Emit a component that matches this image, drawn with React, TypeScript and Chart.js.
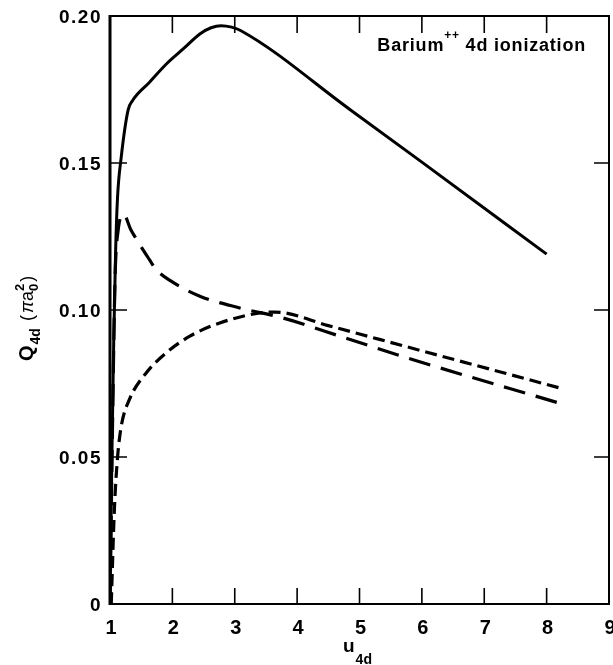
import React, { useEffect, useRef } from "react";
import { Chart, registerables } from "chart.js";

Chart.register(...registerables);

// ---- data ----
const solidX = [1.0, 1.03, 1.06, 1.09, 1.12, 1.18, 1.29, 1.36, 1.63, 1.9, 2.2, 2.44, 2.62, 2.78, 2.95, 3.1, 4.84, 6.0, 8.0];
const solidY = [0, 0.05, 0.09, 0.12, 0.138, 0.152, 0.168, 0.1712, 0.1774, 0.1836, 0.1893, 0.1939, 0.1960, 0.1967, 0.1962, 0.195, 0.1683, 0.1503, 0.119];

const longX = [1.0, 1.04, 1.08, 1.13, 1.22, 1.33, 1.47, 1.63, 1.73, 1.98, 2.44, 3.08, 3.77, 4.8, 5.86, 8.19];
const longY = [0, 0.06, 0.11, 0.127, 0.1325, 0.1275, 0.1225, 0.1172, 0.1140, 0.1098, 0.1047, 0.1007, 0.0973, 0.0903, 0.0831, 0.0684];

const shortX = [1.02, 1.07, 1.12, 1.18, 1.31, 1.58, 1.9, 2.28, 2.76, 3.4, 3.65, 4.5, 5.32, 8.26];
const shortY = [0, 0.032, 0.0496, 0.0604, 0.0695, 0.0786, 0.0854, 0.0911, 0.0956, 0.0990, 0.0993, 0.0947, 0.0900, 0.0732];

const xTicks = [1, 2, 3, 4, 5, 6, 7, 8, 9];
const xTickLabels = ["1", "2", "3", "4", "5", "6", "7", "8", "9"];
const yTicks = [0, 0.05, 0.1, 0.15, 0.2];
const yTickLabels = ["0", "0.05", "0.10", "0.15", "0.20"];

const toPts = (xs: number[], ys: number[]) => xs.map((x, i) => ({ x, y: ys[i] }));

const FONT = "'Liberation Sans', Arial, Helvetica, sans-serif";

const framePlugin = {
  id: "framePlugin",
  afterDatasetsDraw(chart: any) {
    const { ctx, chartArea: a, scales } = chart;
    const xs = scales.x;
    const ys = scales.y;
    ctx.save();
    ctx.strokeStyle = "#000";
    ctx.fillStyle = "#000";
    // frame
    ctx.lineWidth = 2;
    ctx.beginPath();
    ctx.moveTo(a.left, a.top);
    ctx.lineTo(a.right, a.top);
    ctx.lineTo(a.right, a.bottom);
    ctx.lineTo(a.left, a.bottom);
    ctx.stroke();
    ctx.lineWidth = 3;
    ctx.beginPath();
    ctx.moveTo(a.left, a.top - 1);
    ctx.lineTo(a.left, a.bottom + 1);
    ctx.stroke();

    // inward ticks
    ctx.lineWidth = 1.6;
    ctx.beginPath();
    xTicks.forEach((v) => {
      if (v === xs.min || v === xs.max) return;
      const p = xs.getPixelForValue(v);
      ctx.moveTo(p, a.bottom);
      ctx.lineTo(p, a.bottom - 16);
      ctx.moveTo(p, a.top);
      ctx.lineTo(p, a.top + 17);
    });
    yTicks.forEach((v) => {
      if (v === ys.min || v === ys.max) return;
      const p = ys.getPixelForValue(v);
      ctx.moveTo(a.left, p);
      ctx.lineTo(a.left + 17, p);
      ctx.moveTo(a.right, p);
      ctx.lineTo(a.right - 15, p);
    });
    ctx.stroke();

    // tick labels
    ctx.font = `bold 19px ${FONT}`;
    (ctx as any).letterSpacing = "1.5px";
    ctx.textAlign = "right";
    ctx.textBaseline = "middle";
    yTicks.forEach((v, i) => {
      const p = ys.getPixelForValue(v);
      ctx.fillText(yTickLabels[i], a.left - 8, p + 2);
    });
    ctx.font = `bold 20px ${FONT}`;
    (ctx as any).letterSpacing = "0px";
    ctx.textAlign = "center";
    xTicks.forEach((v, i) => {
      const p = xs.getPixelForValue(v);
      ctx.fillText(xTickLabels[i], p + 1, a.bottom + 24);
    });

    // x title: u_4d
    ctx.textAlign = "left";
    ctx.textBaseline = "alphabetic";
    ctx.font = `bold 19px ${FONT}`;
    const ux = 343;
    ctx.fillText("u", ux, 652);
    const uw = ctx.measureText("u").width;
    ctx.font = `bold 14px ${FONT}`;
    ctx.fillText("4d", ux + uw + 1, 664);

    // y title: Q_4d (πa_0^2), rotated
    ctx.save();
    ctx.translate(33, 361);
    ctx.rotate(-Math.PI / 2);
    let cx = 0;
    ctx.font = `bold 20px ${FONT}`;
    ctx.fillText("Q", cx, 0);
    cx += ctx.measureText("Q").width + 1;
    ctx.font = `bold 14px ${FONT}`;
    ctx.fillText("4d", cx, 7);
    cx += ctx.measureText("4d").width + 7;
    ctx.font = `18px ${FONT}`;
    ctx.fillText("(", cx, 0);
    cx += ctx.measureText("(").width + 2;
    ctx.font = `italic 18px ${FONT}`;
    ctx.fillText("\u03c0", cx, 0);
    cx += ctx.measureText("\u03c0").width;
    ctx.font = `18px ${FONT}`;
    ctx.fillText("a", cx, 0);
    cx += ctx.measureText("a").width;
    ctx.font = `bold 13px ${FONT}`;
    ctx.fillText("2", cx, -9);
    ctx.fillText("0", cx, 5);
    cx += ctx.measureText("2").width + 2;
    ctx.font = `18px ${FONT}`;
    ctx.fillText(")", cx, 0);
    ctx.restore();

    // annotation
    ctx.font = `bold 18px ${FONT}`;
    (ctx as any).letterSpacing = "0.8px";
    const p1 = "Barium";
    const p3 = " 4d ionization";
    const w1 = ctx.measureText(p1).width;
    const w3 = ctx.measureText(p3).width;
    ctx.font = `bold 12px ${FONT}`;
    const w2 = ctx.measureText("++").width;
    const endX = 586;
    let sx = endX - (w1 + w2 + w3);
    ctx.font = `bold 18px ${FONT}`;
    ctx.fillText(p1, sx, 51);
    sx += w1;
    ctx.font = `bold 12px ${FONT}`;
    ctx.fillText("++", sx, 39);
    sx += w2;
    ctx.font = `bold 18px ${FONT}`;
    ctx.fillText(p3, sx, 51);
    ctx.restore();
  },
};

export default function App() {
  const ref = useRef<HTMLCanvasElement | null>(null);
  useEffect(() => {
    if (!ref.current) return;
    const common = {
      pointRadius: 0,
      borderColor: "#000",
      borderWidth: 3,
      fill: false,
      cubicInterpolationMode: "monotone" as const,
      borderCapStyle: "butt" as const,
    };
    const chart = new Chart(ref.current, {
      type: "line",
      data: {
        datasets: [
          { ...common, label: "total", data: toPts(solidX, solidY) },
          { ...common, label: "long dash", data: toPts(longX, longY), borderDash: [22, 11], borderWidth: 3.2 },
          { ...common, label: "short dash", data: toPts(shortX, shortY), borderDash: [12, 6], borderWidth: 3.2 },
        ],
      },
      options: {
        animation: false,
        responsive: false,
        devicePixelRatio: 1,
        layout: { padding: { left: 110, right: 4, top: 16, bottom: 61 } },
        plugins: { legend: { display: false }, tooltip: { enabled: false } },
        scales: {
          x: { type: "linear", min: 1, max: 9, display: false },
          y: { type: "linear", min: 0, max: 0.2, display: false },
        },
      },
      plugins: [framePlugin],
    });
    return () => chart.destroy();
  }, []);
  return (
    <div style={{ position: "absolute", left: 0, top: 0, width: 613, height: 665, background: "#fff" }}>
      <canvas ref={ref} width={613} height={665} style={{ display: "block" }} />
    </div>
  );
}
